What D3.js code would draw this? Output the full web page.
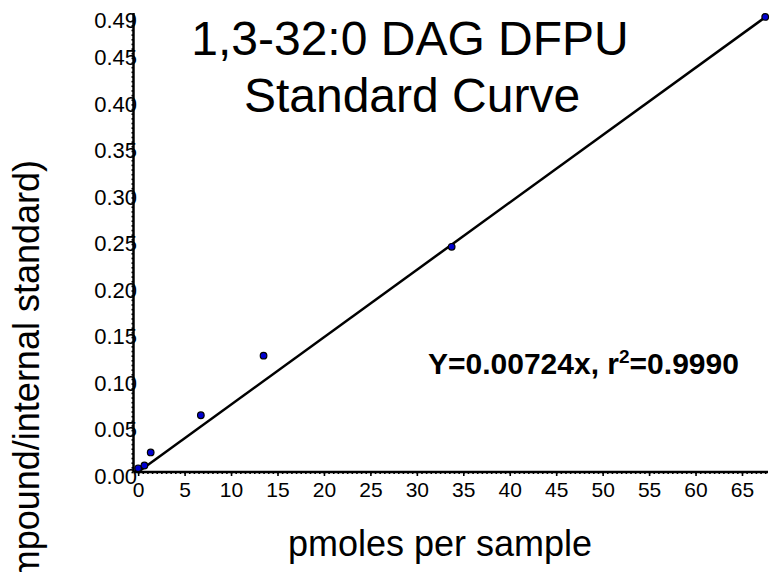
<!DOCTYPE html>
<html>
<head>
<meta charset="utf-8">
<script src="https://cdn.jsdelivr.net/npm/d3@7"></script>
<style>
  body { margin: 0; background: #fff; }
  svg text { font-family: "Liberation Sans", Arial, sans-serif; fill: #000; }
</style>
</head>
<body>
<div id="chart"></div>
<script>
// standard curve points (pmoles, ratio)
var pmoles = [0, 0.675, 1.35, 6.75, 13.5, 33.75, 67.5];
var ratio = [0.004, 0.007, 0.021, 0.061, 0.125, 0.242, 0.489];
var slope = 0.00724;
var xTicks = [0, 5, 10, 15, 20, 25, 30, 35, 40, 45, 50, 55, 60, 65];
var yTicks = [0, 0.05, 0.10, 0.15, 0.20, 0.25, 0.30, 0.35, 0.40, 0.45, 0.49];

var svgWidth = 772;
var svgHeight = 572;

var svg = d3.select("#chart")
    .append("svg")
    .attr("width", svgWidth)
    .attr("height", svgHeight);

var x = d3.scaleLinear()
    .domain([-0.5, 67.8])
    .range([133.5, 768]);

var y = d3.scaleLinear()
    .domain([0, 0.49])
    .range([472, 16]);

// minor ticks (look like a dashed edge along the axes)
svg.append("g")
    .attr("transform", "translate(0,472)")
    .call(d3.axisBottom(x).tickValues(d3.range(0, 68, 0.5)).tickSize(2).tickFormat(""))
    .call(g => g.select(".domain").remove())
    .selectAll("line").attr("stroke-width", 1.6);

svg.append("g")
    .attr("transform", "translate(133.5,0)")
    .call(d3.axisLeft(y).tickValues(d3.range(0, 0.49, 0.005)).tickSize(2).tickFormat(""))
    .call(g => g.select(".domain").remove())
    .selectAll("line").attr("stroke-width", 1.6);

// x axis
var xAxis = svg.append("g")
    .attr("transform", "translate(0,472)")
    .call(d3.axisBottom(x).tickValues(xTicks).tickSize(4).tickPadding(6).tickFormat(d3.format("d")));
xAxis.select(".domain").attr("stroke-width", 2.5).attr("d", "M133.5,0H768");
xAxis.selectAll("line").attr("stroke-width", 1.6);
xAxis.selectAll("text").attr("font-size", 21);

// y axis
var yAxis = svg.append("g")
    .attr("transform", "translate(133.5,0)")
    .call(d3.axisLeft(y).tickValues(yTicks).tickSize(0).tickFormat(d3.format(".2f")));
yAxis.select(".domain").attr("stroke-width", 2.5).attr("d", "M0,472V13");
yAxis.selectAll("text")
    .attr("font-size", 22)
    .attr("x", 3.5)
    .attr("dy", "0.52em");

// regression line
svg.append("line")
    .attr("x1", x(0))
    .attr("y1", y(0))
    .attr("x2", x(67.5))
    .attr("y2", y(slope * 67.5))
    .attr("stroke", "#000")
    .attr("stroke-width", 2.5);

// points
svg.selectAll("circle")
    .data(pmoles)
    .enter()
    .append("circle")
    .attr("cx", d => x(d))
    .attr("cy", (d, i) => y(ratio[i]))
    .attr("r", 3.3)
    .attr("fill", "#0000d0")
    .attr("stroke", "#000")
    .attr("stroke-width", 1.2);

// title
svg.append("text")
    .attr("x", 410)
    .attr("y", 55)
    .attr("text-anchor", "middle")
    .attr("font-size", 48)
    .text("1,3-32:0 DAG DFPU");

svg.append("text")
    .attr("x", 412)
    .attr("y", 112)
    .attr("text-anchor", "middle")
    .attr("font-size", 48)
    .text("Standard Curve");

// equation
var eq = svg.append("text")
    .attr("x", 428)
    .attr("y", 374)
    .attr("font-size", 30)
    .attr("font-weight", "bold");
eq.append("tspan").text("Y=0.00724x, r");
eq.append("tspan").attr("font-size", 19).attr("dy", -11).text("2");
eq.append("tspan").attr("dy", 11).text("=0.9990");

// axis titles
svg.append("text")
    .attr("x", 440)
    .attr("y", 556)
    .attr("text-anchor", "middle")
    .attr("font-size", 36)
    .text("pmoles per sample");

svg.append("text")
    .attr("transform", "translate(39,160) rotate(-90)")
    .attr("text-anchor", "end")
    .attr("font-size", 36)
    .text("Ratio (compound/internal standard)");
</script>
</body>
</html>
